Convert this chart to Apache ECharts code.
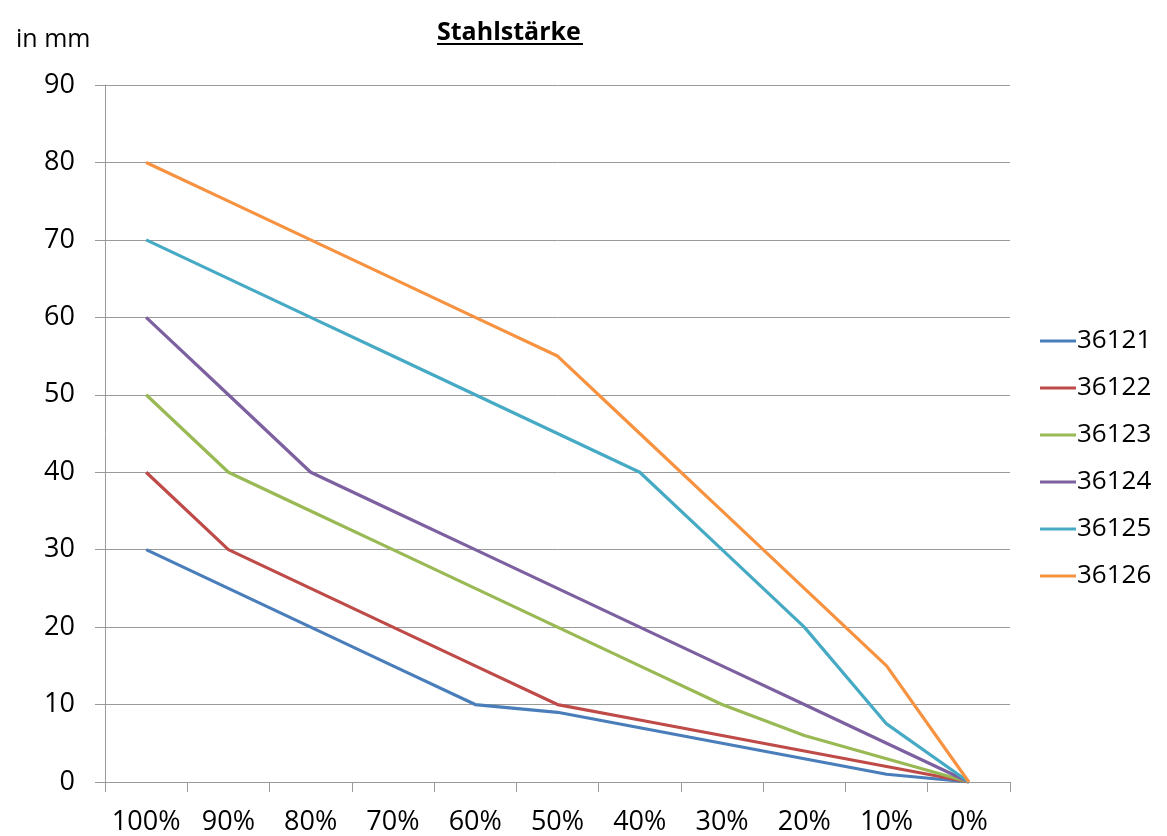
<!DOCTYPE html>
<html>
<head>
<meta charset="utf-8">
<script src="https://cdn.jsdelivr.net/npm/echarts@6/dist/echarts.min.js"></script>
<style>
html,body{margin:0;padding:0;background:#fff;}
#chart{width:1167px;height:836px;}
</style>
</head>
<body>
<div id="chart"></div>
<script>
var categories = ['100%','90%','80%','70%','60%','50%','40%','30%','20%','10%','0%'];
var seriesNames = ['36121','36122','36123','36124','36125','36126'];
var s36121 = [30, 25, 20, 15, 10, 9, 7, 5, 3, 1, 0];
var s36122 = [40, 30, 25, 20, 15, 10, 8, 6, 4, 2, 0];
var s36123 = [50, 40, 35, 30, 25, 20, 15, 10, 6, 3, 0];
var s36124 = [60, 50, 40, 35, 30, 25, 20, 15, 10, 5, 0];
var s36125 = [70, 65, 60, 55, 50, 45, 40, 30, 20, 7.5, 0];
var s36126 = [80, 75, 70, 65, 60, 55, 45, 35, 25, 15, 0];
var seriesData = [s36121, s36122, s36123, s36124, s36125, s36126];
var colors = ['#4A7EBB', '#BE4B48', '#98B954', '#7D60A0', '#46AAC5', '#F69240'];

var font = '"Open Sans", "Noto Sans", sans-serif';
var chart = echarts.init(document.getElementById('chart'));
chart.setOption({
  backgroundColor: '#ffffff',
  color: colors,
  animation: false,
  title: [
    { text: 'Stahlstärke', left: 432, top: 15,
      textStyle: { fontFamily: font, fontSize: 25, fontWeight: 'bold', color: '#000' } },
    { text: 'in mm', left: 11, top: 22,
      textStyle: { fontFamily: font, fontSize: 25, fontWeight: 'normal', color: '#000' } }
  ],
  graphic: [
    { type: 'rect', left: 437, top: 43, shape: { width: 146, height: 2 }, style: { fill: '#000' } }
  ],
  grid: { left: 105, right: 157, top: 85, bottom: 53, containLabel: false },
  legend: {
    orient: 'vertical', left: 1035, top: 323,
    itemWidth: 36, itemHeight: 3, itemGap: 21,
    icon: 'rect',
    textStyle: { fontFamily: font, fontSize: 26, color: '#000', padding: [0,0,0,-4] },
    data: seriesNames
  },
  xAxis: {
    type: 'category', data: categories, boundaryGap: true,
    axisLine: { lineStyle: { color: '#9a9a9a', width: 1 } },
    axisTick: { show: true, length: 10, lineStyle: { color: '#9a9a9a' } },
    axisLabel: { fontFamily: font, fontSize: 27, color: '#000', margin: 27, interval: 0 }
  },
  yAxis: {
    type: 'value', min: 0, max: 90, interval: 10,
    axisLine: { show: true, lineStyle: { color: '#9a9a9a', width: 1 } },
    axisTick: { show: true, length: 10, lineStyle: { color: '#9a9a9a' } },
    splitLine: { show: true, lineStyle: { color: '#9a9a9a', width: 1 } },
    axisLabel: { fontFamily: font, fontSize: 27, color: '#000', margin: 30 }
  },
  series: seriesNames.map(function (n, i) {
    return {
      name: n, type: 'line', data: seriesData[i],
      symbol: 'none', smooth: false,
      lineStyle: { width: 3.2, color: colors[i] },
      itemStyle: { color: colors[i] }
    };
  })
});
</script>
</body>
</html>
